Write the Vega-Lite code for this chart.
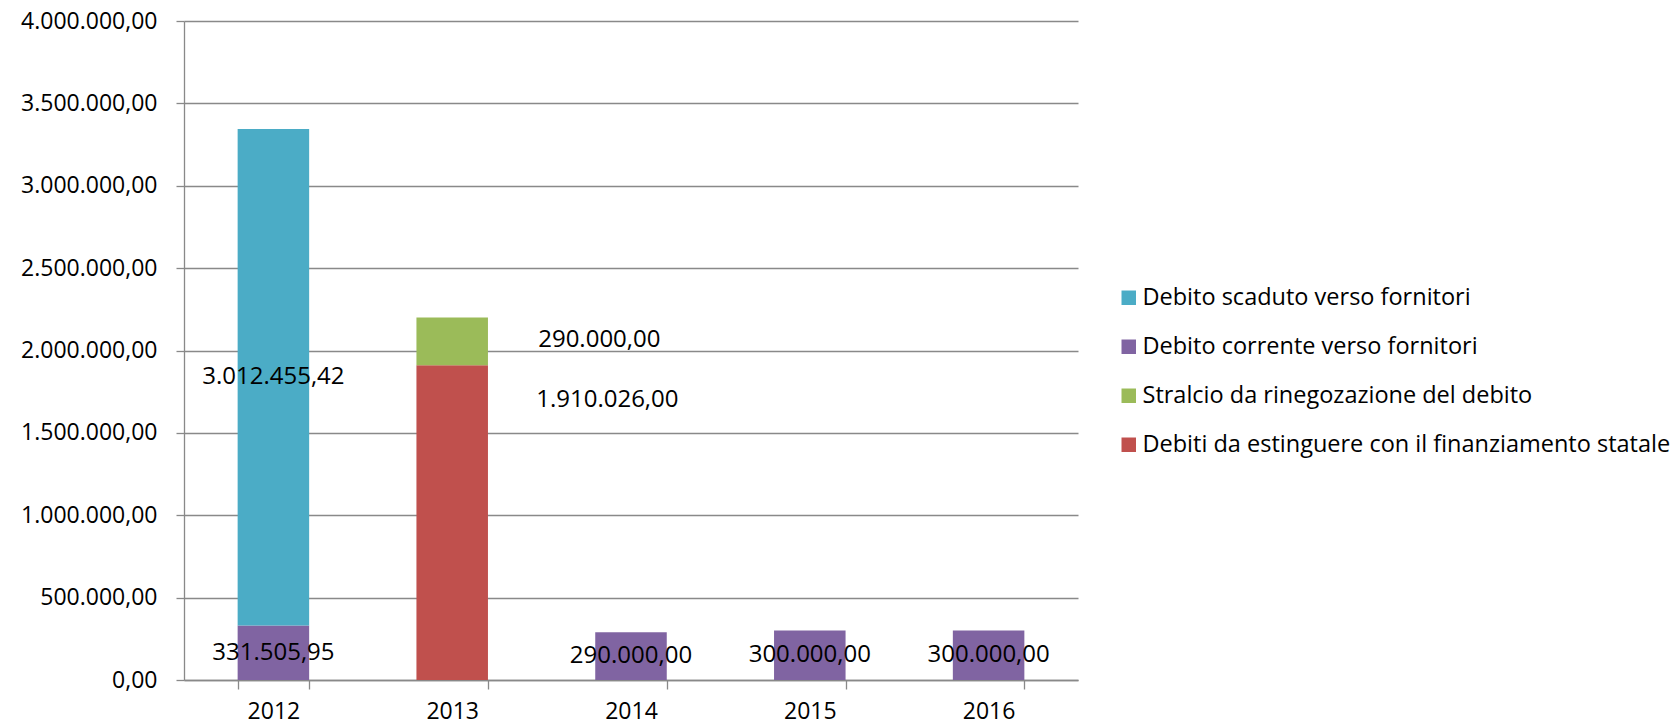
{
  "$schema": "https://vega.github.io/schema/vega-lite/v6.json",
  "autosize": {"type": "none"},
  "width": 894,
  "height": 659,
  "padding": {"left": 184, "top": 21, "right": 599, "bottom": 47},
  "background": "white",
  "config": {
    "view": {"stroke": null},
    "font": "Open Sans",
    "locale": {"number": {"decimal": ",", "thousands": ".", "grouping": [3], "currency": ["€", ""]}}
  },
  "data": {
    "values": [
      {"anno": "2012", "serie": "Debito corrente verso fornitori", "valore": 331505.95},
      {"anno": "2012", "serie": "Debito scaduto verso fornitori", "valore": 3012455.42},
      {"anno": "2013", "serie": "Debiti da estinguere con il finanziamento statale", "valore": 1910026},
      {"anno": "2013", "serie": "Stralcio da rinegozazione del debito", "valore": 290000},
      {"anno": "2014", "serie": "Debito corrente verso fornitori", "valore": 290000},
      {"anno": "2015", "serie": "Debito corrente verso fornitori", "valore": 300000},
      {"anno": "2016", "serie": "Debito corrente verso fornitori", "valore": 300000}
    ]
  },
  "encoding": {
    "x": {
      "field": "anno",
      "type": "nominal",
      "scale": {"paddingInner": 0.6, "paddingOuter": 0.3},
      "axis": {
        "title": null,
        "labelAngle": 0,
        "labelFontSize": 23,
        "labelColor": "#000000",
        "labelPadding": 11,
        "domainColor": "#898989",
        "domainWidth": 1.3,
        "tickColor": "#898989",
        "tickWidth": 1.3,
        "tickSize": 9,
        "tickBand": "extent",
        "grid": false
      }
    },
    "y": {
      "field": "valore",
      "type": "quantitative",
      "stack": "zero",
      "scale": {"domain": [0, 4000000], "nice": false},
      "axis": {
        "title": null,
        "values": [0, 500000, 1000000, 1500000, 2000000, 2500000, 3000000, 3500000, 4000000],
        "format": ",.2f",
        "labelFontSize": 23,
        "labelColor": "#000000",
        "labelPadding": 19,
        "tickSize": 8,
        "tickColor": "#898989",
        "tickWidth": 1.3,
        "domainColor": "#898989",
        "domainWidth": 1.3,
        "gridColor": "#898989",
        "gridWidth": 1.3
      }
    },
    "order": {"field": "serie", "sort": "ascending"}
  },
  "layer": [
    {
      "mark": {"type": "bar"},
      "encoding": {
        "color": {
          "field": "serie",
          "type": "nominal",
          "scale": {
            "domain": ["Debito scaduto verso fornitori", "Debito corrente verso fornitori", "Stralcio da rinegozazione del debito", "Debiti da estinguere con il finanziamento statale"],
            "range": ["#4BACC6", "#8064A2", "#9BBB59", "#C0504D"]
          },
          "legend": {
            "title": null,
            "orient": "none",
            "legendX": 933,
            "legendY": 265,
            "padding": 0,
            "symbolType": "square",
            "symbolSize": 210,
            "symbolStrokeWidth": 0,
            "labelFontSize": 23.5,
            "labelColor": "#000000",
            "labelLimit": 700,
            "labelOffset": 2,
            "rowPadding": 24
          }
        }
      }
    },
    {
      "mark": {"type": "text", "fontSize": 24, "color": "#000000"},
      "encoding": {
        "y": {"field": "valore", "type": "quantitative", "stack": "zero", "bandPosition": 0.5},
        "detail": {"field": "serie"},
        "text": {"condition": {"test": "datum.anno !== '2013'", "field": "valore", "type": "quantitative", "format": ",.2f"}, "value": ""}
      }
    },
    {
      "mark": {"type": "text", "fontSize": 24, "color": "#000000", "align": "left", "dx": 86, "dy": -1},
      "encoding": {
        "y": {"field": "valore", "type": "quantitative", "stack": "zero", "bandPosition": 0.5},
        "detail": {"field": "serie"},
        "text": {"condition": {"test": "datum.serie === 'Stralcio da rinegozazione del debito'", "field": "valore", "type": "quantitative", "format": ",.2f"}, "value": ""}
      }
    },
    {
      "mark": {"type": "text", "fontSize": 24, "color": "#000000", "align": "left", "dx": 84, "dy": -123},
      "encoding": {
        "y": {"field": "valore", "type": "quantitative", "stack": "zero", "bandPosition": 0.5},
        "detail": {"field": "serie"},
        "text": {"condition": {"test": "datum.serie === 'Debiti da estinguere con il finanziamento statale'", "field": "valore", "type": "quantitative", "format": ",.2f"}, "value": ""}
      }
    }
  ]
}
